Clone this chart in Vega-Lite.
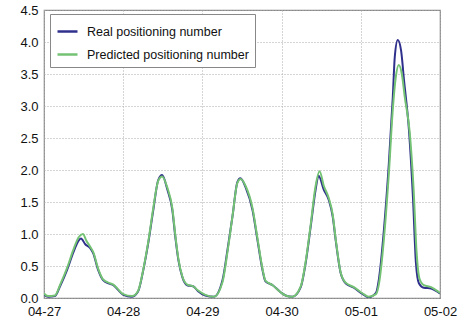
{
  "$schema": "https://vega.github.io/schema/vega-lite/v6.json",
  "width": 396,
  "height": 288,
  "autosize": "none",
  "padding": {"left": 44, "top": 10, "right": 25, "bottom": 28},
  "config": {
    "view": {"stroke": "#888888", "strokeWidth": 1.2},
    "font": "Liberation Sans",
    "axis": {"labelFont": "Liberation Sans", "labelFontSize": 13, "labelColor": "#111", "grid": true, "gridColor": "#aaaaaa", "gridDash": [1, 2], "gridWidth": 1, "domain": false, "ticks": false}
  },
  "data": {"values": [
    {"s":"Real positioning number","t":0,"v":0.05},{"s":"Real positioning number","t":1.2,"v":0.02},{"s":"Real positioning number","t":3.3,"v":0.03},{"s":"Real positioning number","t":5,"v":0.2},{"s":"Real positioning number","t":7,"v":0.44},{"s":"Real positioning number","t":8.8,"v":0.7},{"s":"Real positioning number","t":10.3,"v":0.88},{"s":"Real positioning number","t":11.2,"v":0.93},{"s":"Real positioning number","t":12.5,"v":0.84},{"s":"Real positioning number","t":14,"v":0.78},{"s":"Real positioning number","t":14.9,"v":0.7},{"s":"Real positioning number","t":16.4,"v":0.44},{"s":"Real positioning number","t":17.9,"v":0.28},{"s":"Real positioning number","t":20,"v":0.22},{"s":"Real positioning number","t":21,"v":0.2},{"s":"Real positioning number","t":22.2,"v":0.14},{"s":"Real positioning number","t":24,"v":0.05},{"s":"Real positioning number","t":26.7,"v":0.02},{"s":"Real positioning number","t":28.5,"v":0.1},{"s":"Real positioning number","t":30.1,"v":0.44},{"s":"Real positioning number","t":31.6,"v":0.86},{"s":"Real positioning number","t":33.1,"v":1.37},{"s":"Real positioning number","t":34.6,"v":1.84},{"s":"Real positioning number","t":35.8,"v":1.92},{"s":"Real positioning number","t":37.4,"v":1.69},{"s":"Real positioning number","t":38.9,"v":1.37},{"s":"Real positioning number","t":39.8,"v":0.95},{"s":"Real positioning number","t":40.7,"v":0.6},{"s":"Real positioning number","t":41.9,"v":0.33},{"s":"Real positioning number","t":43.4,"v":0.2},{"s":"Real positioning number","t":45.3,"v":0.18},{"s":"Real positioning number","t":46.6,"v":0.11},{"s":"Real positioning number","t":48.9,"v":0.04},{"s":"Real positioning number","t":51.5,"v":0.02},{"s":"Real positioning number","t":54.1,"v":0.28},{"s":"Real positioning number","t":55.6,"v":0.75},{"s":"Real positioning number","t":57.1,"v":1.27},{"s":"Real positioning number","t":58.6,"v":1.81},{"s":"Real positioning number","t":59.5,"v":1.87},{"s":"Real positioning number","t":61.1,"v":1.73},{"s":"Real positioning number","t":63.2,"v":1.37},{"s":"Real positioning number","t":64.7,"v":0.9},{"s":"Real positioning number","t":66.2,"v":0.44},{"s":"Real positioning number","t":67.1,"v":0.26},{"s":"Real positioning number","t":69.3,"v":0.2},{"s":"Real positioning number","t":71.7,"v":0.09},{"s":"Real positioning number","t":73.2,"v":0.04},{"s":"Real positioning number","t":75.3,"v":0.02},{"s":"Real positioning number","t":77.8,"v":0.17},{"s":"Real positioning number","t":79.3,"v":0.55},{"s":"Real positioning number","t":80.8,"v":1.11},{"s":"Real positioning number","t":82.3,"v":1.69},{"s":"Real positioning number","t":83.2,"v":1.91},{"s":"Real positioning number","t":84.8,"v":1.69},{"s":"Real positioning number","t":86.3,"v":1.53},{"s":"Real positioning number","t":87.5,"v":1.27},{"s":"Real positioning number","t":88.4,"v":0.9},{"s":"Real positioning number","t":89.9,"v":0.39},{"s":"Real positioning number","t":91.4,"v":0.23},{"s":"Real positioning number","t":93.9,"v":0.16},{"s":"Real positioning number","t":96.6,"v":0.06},{"s":"Real positioning number","t":98.4,"v":0.01},{"s":"Real positioning number","t":100.6,"v":0.08},{"s":"Real positioning number","t":101.5,"v":0.3},{"s":"Real positioning number","t":103,"v":1.06},{"s":"Real positioning number","t":104.5,"v":2.1},{"s":"Real positioning number","t":105.7,"v":3.14},{"s":"Real positioning number","t":106.3,"v":3.77},{"s":"Real positioning number","t":107.2,"v":4.03},{"s":"Real positioning number","t":108.2,"v":3.87},{"s":"Real positioning number","t":109.1,"v":3.4},{"s":"Real positioning number","t":110.6,"v":2.62},{"s":"Real positioning number","t":111.8,"v":1.58},{"s":"Real positioning number","t":112.7,"v":0.55},{"s":"Real positioning number","t":113.6,"v":0.23},{"s":"Real positioning number","t":115.1,"v":0.16},{"s":"Real positioning number","t":117.3,"v":0.15},{"s":"Real positioning number","t":119.7,"v":0.08},{"s":"Real positioning number","t":120,"v":0.07},

    {"s":"Predicted positioning number","t":0,"v":0.07},{"s":"Predicted positioning number","t":1.2,"v":0.03},{"s":"Predicted positioning number","t":3.3,"v":0.04},{"s":"Predicted positioning number","t":5,"v":0.22},{"s":"Predicted positioning number","t":7,"v":0.47},{"s":"Predicted positioning number","t":8.8,"v":0.74},{"s":"Predicted positioning number","t":10.5,"v":0.95},{"s":"Predicted positioning number","t":11.8,"v":1.0},{"s":"Predicted positioning number","t":12.8,"v":0.9},{"s":"Predicted positioning number","t":14,"v":0.8},{"s":"Predicted positioning number","t":14.9,"v":0.72},{"s":"Predicted positioning number","t":16.4,"v":0.46},{"s":"Predicted positioning number","t":17.9,"v":0.29},{"s":"Predicted positioning number","t":20,"v":0.23},{"s":"Predicted positioning number","t":21,"v":0.21},{"s":"Predicted positioning number","t":22.2,"v":0.15},{"s":"Predicted positioning number","t":24,"v":0.06},{"s":"Predicted positioning number","t":26.7,"v":0.03},{"s":"Predicted positioning number","t":28.5,"v":0.11},{"s":"Predicted positioning number","t":30.1,"v":0.45},{"s":"Predicted positioning number","t":31.6,"v":0.88},{"s":"Predicted positioning number","t":33.1,"v":1.4},{"s":"Predicted positioning number","t":34.6,"v":1.83},{"s":"Predicted positioning number","t":35.8,"v":1.9},{"s":"Predicted positioning number","t":37.4,"v":1.72},{"s":"Predicted positioning number","t":38.9,"v":1.4},{"s":"Predicted positioning number","t":39.8,"v":0.98},{"s":"Predicted positioning number","t":40.7,"v":0.62},{"s":"Predicted positioning number","t":41.9,"v":0.34},{"s":"Predicted positioning number","t":43.4,"v":0.21},{"s":"Predicted positioning number","t":45.3,"v":0.18},{"s":"Predicted positioning number","t":46.6,"v":0.12},{"s":"Predicted positioning number","t":48.9,"v":0.05},{"s":"Predicted positioning number","t":51.5,"v":0.02},{"s":"Predicted positioning number","t":54.1,"v":0.25},{"s":"Predicted positioning number","t":55.6,"v":0.72},{"s":"Predicted positioning number","t":57.1,"v":1.27},{"s":"Predicted positioning number","t":58.6,"v":1.8},{"s":"Predicted positioning number","t":59.6,"v":1.86},{"s":"Predicted positioning number","t":61.1,"v":1.75},{"s":"Predicted positioning number","t":63.2,"v":1.4},{"s":"Predicted positioning number","t":64.7,"v":0.93},{"s":"Predicted positioning number","t":66.2,"v":0.46},{"s":"Predicted positioning number","t":67.1,"v":0.27},{"s":"Predicted positioning number","t":69.3,"v":0.2},{"s":"Predicted positioning number","t":71.7,"v":0.09},{"s":"Predicted positioning number","t":73.2,"v":0.04},{"s":"Predicted positioning number","t":75.3,"v":0.02},{"s":"Predicted positioning number","t":77.8,"v":0.18},{"s":"Predicted positioning number","t":79.3,"v":0.57},{"s":"Predicted positioning number","t":80.8,"v":1.14},{"s":"Predicted positioning number","t":82.3,"v":1.75},{"s":"Predicted positioning number","t":83.5,"v":1.98},{"s":"Predicted positioning number","t":84.8,"v":1.75},{"s":"Predicted positioning number","t":86.3,"v":1.56},{"s":"Predicted positioning number","t":87.5,"v":1.3},{"s":"Predicted positioning number","t":88.4,"v":0.92},{"s":"Predicted positioning number","t":89.9,"v":0.4},{"s":"Predicted positioning number","t":91.4,"v":0.24},{"s":"Predicted positioning number","t":93.9,"v":0.17},{"s":"Predicted positioning number","t":96.6,"v":0.07},{"s":"Predicted positioning number","t":98.4,"v":0.02},{"s":"Predicted positioning number","t":100.6,"v":0.06},{"s":"Predicted positioning number","t":101.5,"v":0.22},{"s":"Predicted positioning number","t":103,"v":0.92},{"s":"Predicted positioning number","t":104.5,"v":1.95},{"s":"Predicted positioning number","t":105.7,"v":2.95},{"s":"Predicted positioning number","t":106.6,"v":3.45},{"s":"Predicted positioning number","t":107.5,"v":3.64},{"s":"Predicted positioning number","t":108.5,"v":3.48},{"s":"Predicted positioning number","t":109.3,"v":3.15},{"s":"Predicted positioning number","t":110.8,"v":2.6},{"s":"Predicted positioning number","t":112,"v":1.7},{"s":"Predicted positioning number","t":112.9,"v":0.72},{"s":"Predicted positioning number","t":113.8,"v":0.3},{"s":"Predicted positioning number","t":115.1,"v":0.2},{"s":"Predicted positioning number","t":117.3,"v":0.17},{"s":"Predicted positioning number","t":119.7,"v":0.09},{"s":"Predicted positioning number","t":120,"v":0.08}
  ]},
  "mark": {"type": "line", "interpolate": "monotone", "strokeWidth": 2, "clip": true},
  "encoding": {
    "x": {"field": "t", "type": "quantitative",
      "scale": {"domain": [0, 120], "nice": false, "zero": false},
      "axis": {"title": null, "values": [0, 24, 48, 72, 96, 120], "labelPadding": 7, "labelFlush": false,
        "labelExpr": "['04-27','04-28','04-29','04-30','05-01','05-02'][round(datum.value/24)]"}},
    "y": {"field": "v", "type": "quantitative",
      "scale": {"domain": [0, 4.5], "nice": false},
      "axis": {"title": null, "values": [0, 0.5, 1, 1.5, 2, 2.5, 3, 3.5, 4, 4.5], "format": ".1f", "labelPadding": 6, "labelFlush": false}},
    "color": {"field": "s", "type": "nominal",
      "scale": {"domain": ["Real positioning number", "Predicted positioning number"], "range": ["#2f308c", "#74c274"]},
      "legend": {"title": null, "orient": "none", "legendX": 6, "legendY": 4, "labelFontSize": 12.5, "labelFont": "Liberation Sans", "labelColor": "#111", "labelOffset": 8,
        "symbolType": "stroke", "symbolStrokeWidth": 2.5, "symbolSize": 400, "strokeColor": "#888888", "fillColor": "white",
        "padding": 6, "rowPadding": 5, "labelLimit": 300}},
    "order": {"field": "s", "sort": "descending"}
  }
}
